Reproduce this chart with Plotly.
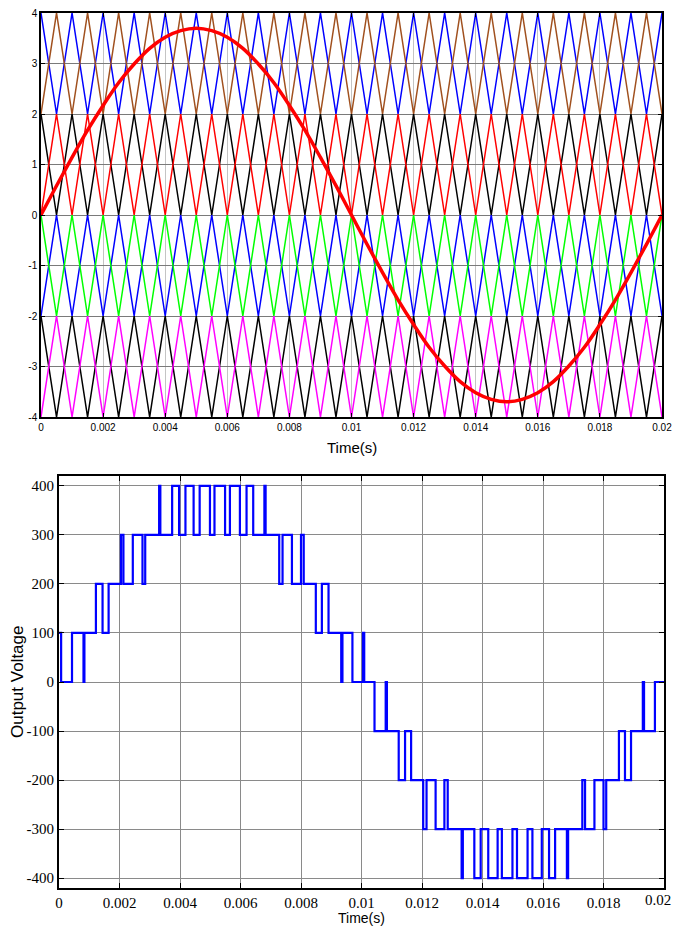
import plotly.graph_objects as go

# ---------------- data ----------------
# carrier vertex times (ms)
carrier_t_ms = [0, 0.5, 1, 1.5, 2, 2.5, 3, 3.5, 4, 4.5, 5, 5.5, 6, 6.5, 7, 7.5, 8, 8.5, 9, 9.5,
                10, 10.5, 11, 11.5, 12, 12.5, 13, 13.5, 14, 14.5, 15, 15.5, 16, 16.5, 17, 17.5,
                18, 18.5, 19, 19.5, 20]

carrier_brown = [2, 4, 2, 4, 2, 4, 2, 4, 2, 4, 2, 4, 2, 4, 2, 4, 2, 4, 2, 4, 2,
                 4, 2, 4, 2, 4, 2, 4, 2, 4, 2, 4, 2, 4, 2, 4, 2, 4, 2, 4, 2]
carrier_blue_top = [4, 2, 4, 2, 4, 2, 4, 2, 4, 2, 4, 2, 4, 2, 4, 2, 4, 2, 4, 2, 4,
                    2, 4, 2, 4, 2, 4, 2, 4, 2, 4, 2, 4, 2, 4, 2, 4, 2, 4, 2, 4]
carrier_red = [0, 2, 0, 2, 0, 2, 0, 2, 0, 2, 0, 2, 0, 2, 0, 2, 0, 2, 0, 2, 0,
               2, 0, 2, 0, 2, 0, 2, 0, 2, 0, 2, 0, 2, 0, 2, 0, 2, 0, 2, 0]
carrier_black_top = [2, 0, 2, 0, 2, 0, 2, 0, 2, 0, 2, 0, 2, 0, 2, 0, 2, 0, 2, 0, 2,
                     0, 2, 0, 2, 0, 2, 0, 2, 0, 2, 0, 2, 0, 2, 0, 2, 0, 2, 0, 2]
carrier_green = [0, -2, 0, -2, 0, -2, 0, -2, 0, -2, 0, -2, 0, -2, 0, -2, 0, -2, 0, -2, 0,
                 -2, 0, -2, 0, -2, 0, -2, 0, -2, 0, -2, 0, -2, 0, -2, 0, -2, 0, -2, 0]
carrier_blue_bot = [-2, 0, -2, 0, -2, 0, -2, 0, -2, 0, -2, 0, -2, 0, -2, 0, -2, 0, -2, 0, -2,
                    0, -2, 0, -2, 0, -2, 0, -2, 0, -2, 0, -2, 0, -2, 0, -2, 0, -2, 0, -2]
carrier_magenta = [-4, -2, -4, -2, -4, -2, -4, -2, -4, -2, -4, -2, -4, -2, -4, -2, -4, -2, -4, -2, -4,
                   -2, -4, -2, -4, -2, -4, -2, -4, -2, -4, -2, -4, -2, -4, -2, -4, -2, -4, -2, -4]
carrier_black_bot = [-2, -4, -2, -4, -2, -4, -2, -4, -2, -4, -2, -4, -2, -4, -2, -4, -2, -4, -2, -4, -2,
                     -4, -2, -4, -2, -4, -2, -4, -2, -4, -2, -4, -2, -4, -2, -4, -2, -4, -2, -4, -2]

# reference (modulating) wave, sampled every 0.5 ms
reference = [0, 0.58, 1.14, 1.68, 2.17, 2.62, 2.99, 3.30, 3.52, 3.65, 3.70, 3.65, 3.52, 3.30,
             2.99, 2.62, 2.17, 1.68, 1.14, 0.58, 0, -0.58, -1.14, -1.68, -2.17, -2.62, -2.99,
             -3.30, -3.52, -3.65, -3.70, -3.65, -3.52, -3.30, -2.99, -2.62, -2.17, -1.68,
             -1.14, -0.58, 0]

# output voltage: switching instants (ms) and level held from that instant
out_t_ms = [0, 0.07, 0.43, 0.81, 0.84, 1.22, 1.44, 1.64, 2.05, 2.13, 2.44, 2.76, 2.85,
            3.31, 3.35, 3.74, 3.97, 4.18, 4.45, 4.65, 4.99, 5.14, 5.49, 5.65, 5.98, 6.20,
            6.42, 6.79, 6.83, 7.28, 7.39, 7.70, 8.00, 8.09, 8.49, 8.69, 8.91, 9.33, 9.37,
            9.70, 10.05, 10.09, 10.43, 10.80, 10.84, 11.23, 11.44, 11.64, 12.04, 12.15,
            12.45, 12.74, 12.85, 13.31, 13.35, 13.73, 13.94, 14.19, 14.50, 14.64, 14.99,
            15.14, 15.49, 15.65, 15.96, 16.20, 16.40, 16.79, 16.83, 17.30, 17.39, 17.70,
            18.00, 18.09, 18.51, 18.71, 18.91, 19.30, 19.34, 19.70, 20.0]
out_v = [100, 0, 100, 0, 100, 200, 100, 200, 300, 200, 300, 200, 300,
         400, 300, 400, 300, 400, 300, 400, 300, 400, 300, 400, 300, 400,
         300, 400, 300, 200, 300, 200, 300, 200, 100, 200, 100, 0, 100,
         0, 100, 0, -100, 0, -100, -200, -100, -200, -300, -200,
         -300, -200, -300, -400, -300, -400, -300, -400, -300, -400, -300,
         -400, -300, -400, -300, -400, -300, -400, -300, -200, -300, -200,
         -300, -200, -100, -200, -100, 0, -100, 0, 0]

x_ticks = [0, 0.002, 0.004, 0.006, 0.008, 0.01, 0.012, 0.014, 0.016, 0.018, 0.02]
x_tick_text = ['0', '0.002', '0.004', '0.006', '0.008', '0.01', '0.012', '0.014', '0.016', '0.018', '0.02']
top_y_ticks = [-4, -3, -2, -1, 0, 1, 2, 3, 4]
top_y_text = ['-4', '-3', '-2', '-1', '0', '1', '2', '3', '4']
bot_y_ticks = [-400, -300, -200, -100, 0, 100, 200, 300, 400]
bot_y_text = ['-400', '-300', '-200', '-100', '0', '100', '200', '300', '400']

# ---------------- figure ----------------
ct = [t / 1000 for t in carrier_t_ms]
ot = [t / 1000 for t in out_t_ms]

fig = go.Figure()
carriers = [
    (carrier_black_bot, 'black'),
    (carrier_magenta, '#FF00FF'),
    (carrier_blue_bot, '#0000FF'),
    (carrier_green, '#00FF00'),
    (carrier_black_top, 'black'),
    (carrier_red, '#FF0000'),
    (carrier_blue_top, '#0000FF'),
    (carrier_brown, '#A0501E'),
]
for vals, col in carriers:
    fig.add_trace(go.Scatter(x=ct, y=vals, mode='lines', line=dict(color=col, width=1.5),
                             xaxis='x', yaxis='y', showlegend=False, hoverinfo='skip'))
fig.add_trace(go.Scatter(x=ct, y=reference, mode='lines', line=dict(color='#FF0000', width=3.5, shape='spline'),
                         xaxis='x', yaxis='y', showlegend=False))
fig.add_trace(go.Scatter(x=ot, y=out_v, mode='lines', line=dict(color='#0000FF', width=2.2, shape='hv'),
                         xaxis='x2', yaxis='y2', showlegend=False))

# bottom axis: last label sits at the page edge, drawn as an annotation
bot_x_text = x_tick_text[:-1] + ['']

W, H = 673, 926
fig.update_layout(
    width=W, height=H, autosize=False,
    margin=dict(l=0, r=0, t=0, b=0, pad=0),
    paper_bgcolor='white', plot_bgcolor='white',
    xaxis=dict(domain=[41 / W, 662 / W], range=[0, 0.02], tickvals=x_ticks, ticktext=x_tick_text,
               automargin=False,
               showgrid=True, gridcolor='#c4c4c4', gridwidth=1, zeroline=False,
               showline=True, linecolor='black', linewidth=1.5, mirror='ticks',
               ticks='inside', ticklen=4, tickcolor='black',
               tickfont=dict(family='Arial', size=10, color='black'), anchor='y'),
    yaxis=dict(domain=[(H - 417) / H, (H - 13) / H], range=[-4, 4], tickvals=top_y_ticks, ticktext=top_y_text,
               automargin=False,
               showgrid=True, gridcolor='#7a7a7a', gridwidth=1, zeroline=False,
               showline=True, linecolor='black', linewidth=1.5, mirror='ticks',
               ticks='inside', ticklen=4, tickcolor='black',
               tickfont=dict(family='Arial', size=10, color='black'), anchor='x'),
    xaxis2=dict(domain=[59 / W, 664 / W], range=[0, 0.02], tickvals=x_ticks, ticktext=bot_x_text,
                automargin=False,
                showgrid=True, gridcolor='#8a8a8a', gridwidth=1, zeroline=False,
                showline=True, linecolor='black', linewidth=2, mirror='ticks',
                ticks='inside', ticklen=5, tickcolor='black',
                tickfont=dict(family='Liberation Serif', size=15, color='black'), anchor='y2'),
    yaxis2=dict(domain=[(H - 888) / H, (H - 476) / H], range=[-420, 420], tickvals=bot_y_ticks, ticktext=bot_y_text,
                automargin=False,
                showgrid=True, gridcolor='#8a8a8a', gridwidth=1, zeroline=False,
                showline=True, linecolor='black', linewidth=2, mirror='ticks',
                ticks='inside', ticklen=5, tickcolor='black',
                tickfont=dict(family='Liberation Serif', size=15, color='black'), anchor='x2'),
    annotations=[
        dict(text='Time(s)', x=352 / W, y=(H - 448) / H, xref='paper', yref='paper',
             showarrow=False, font=dict(family='Arial', size=15, color='black'),
             xanchor='center', yanchor='middle'),
        dict(text='Time(s)', x=361 / W, y=(H - 918) / H, xref='paper', yref='paper',
             showarrow=False, font=dict(family='Arial', size=14, color='black'),
             xanchor='center', yanchor='middle'),
        dict(text='Output Voltage', x=17 / W, y=(H - 682) / H, xref='paper', yref='paper',
             showarrow=False, textangle=-90, font=dict(family='Arial', size=17, color='black'),
             xanchor='center', yanchor='middle'),
        dict(text=x_tick_text[-1], x=1.0, y=(H - 900) / H, xref='paper', yref='paper',
             showarrow=False, font=dict(family='Liberation Serif', size=15, color='black'),
             xanchor='right', yanchor='middle', xshift=0),
    ],
)

fig.write_html('out.html', config={'displayModeBar': False},
               post_script="document.body.style.margin='0';document.body.style.padding='0';"
                           "document.body.style.overflow='hidden';")
